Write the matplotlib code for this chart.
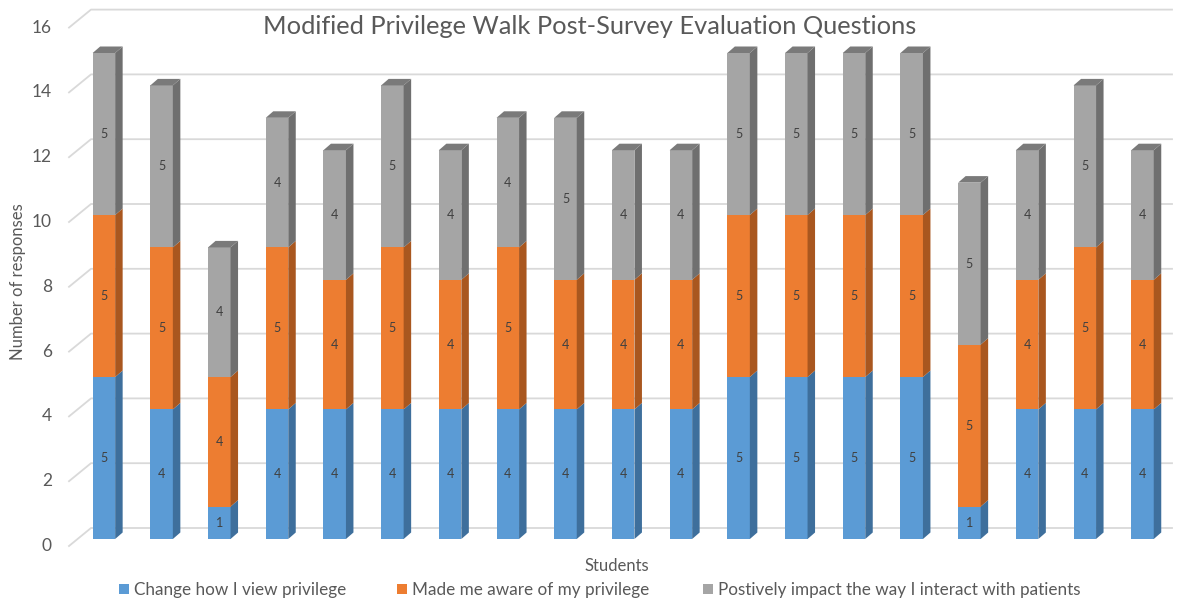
import numpy as np
import matplotlib
matplotlib.use("Agg")
from matplotlib import pyplot as plt
from matplotlib.patches import Polygon, Patch

plt.rcParams['font.family'] = ['Lato', 'DejaVu Sans']

# data
students = np.arange(1, 20)
change_view = [5, 4, 1, 4, 4, 4, 4, 4, 4, 4, 4, 5, 5, 5, 5, 1, 4, 4, 4]
made_aware = [5, 5, 4, 5, 4, 5, 4, 5, 4, 4, 4, 5, 5, 5, 5, 5, 4, 5, 4]
impact_patients = [5, 5, 4, 4, 4, 5, 4, 4, 5, 4, 4, 5, 5, 5, 5, 5, 4, 5, 4]
series_names = ['Change how I view privilege', 'Made me aware of my privilege',
                'Postively impact the way I interact with patients']
y_ticks = [0, 2, 4, 6, 8, 10, 12, 14, 16]

front_cols = ['#5B9BD5', '#ED7D31', '#A5A5A5']
side_cols = ['#3E6F9C', '#A9571F', '#6F6F6F']
top_col = '#7A7A7A'
txt_col = '#595959'

W, H, DPI = 1179, 602, 100
fig = plt.figure(figsize=(W / DPI, H / DPI), dpi=DPI)

# axes geometry in pixels (top-left origin)
px_left, px_right, px_top, px_bot = 60, 1175, 5, 560
x0_px, x_step = 103.9, 57.7   # centre of first bar, bar spacing
y0_px, y_step = 539, 32.4     # value 0, pixels per unit

ax = fig.add_axes([px_left / W, 1 - px_bot / H, (px_right - px_left) / W, (px_bot - px_top) / H])
ax.set_xlim((px_left - x0_px) / x_step, (px_right - x0_px) / x_step)
ax.set_ylim(-(px_bot - y0_px) / y_step, (y0_px - px_top) / y_step)
ax.axis('off')

def px2x(p):
    return (p - x0_px) / x_step

dx = 7.5 / x_step
dy = 6.5 / y_step
width = 22.5 / x_step

# gridlines on the back wall with the perspective stubs
g_dx, g_dy = 22 / x_step, 11 / y_step
lab_dy = 7 / y_step
for v in y_ticks:
    ax.plot([px2x(69), px2x(69) + g_dx, px2x(1172)], [v - lab_dy, v + g_dy, v + g_dy],
            color='#D9D9D9', lw=1.3, zorder=0, clip_on=False)
    ax.text(px2x(52), v - lab_dy, str(v), ha='right', va='center', fontsize=12.5,
            color=txt_col, clip_on=False)

x = students - 1
series = [change_view, made_aware, impact_patients]
bottom = np.zeros(len(x))
for vals, fc, sc in zip(series, front_cols, side_cols):
    vals = np.array(vals, dtype=float)
    ax.bar(x, vals, width=width, bottom=bottom, color=fc, zorder=3)
    for xi, b, v in zip(x, bottom, vals):
        xr = xi + width / 2
        ax.add_patch(Polygon([(xr, b), (xr + dx, b + dy), (xr + dx, b + v + dy), (xr, b + v)],
                             closed=True, facecolor=sc, edgecolor='none', zorder=3))
        ax.text(xi, b + v / 2, '%d' % v, ha='center', va='center', fontsize=9,
                color='#404040', zorder=5)
    bottom = bottom + vals

for xi, t in zip(x, bottom):
    xl, xr = xi - width / 2, xi + width / 2
    ax.add_patch(Polygon([(xl, t), (xr, t), (xr + dx, t + dy), (xl + dx, t + dy)],
                         closed=True, facecolor=top_col, edgecolor='none', zorder=3))

fig.text(590 / W, 1 - 26 / H, 'Modified Privilege Walk Post-Survey Evaluation Questions',
         ha='center', va='center', fontsize=18.3, color=txt_col)
fig.text(18 / W, 1 - 282 / H, 'Number of responses', rotation=90, ha='center', va='center',
         fontsize=12, color=txt_col)
fig.text(617 / W, 1 - 566 / H, 'Students', ha='center', va='center', fontsize=12, color=txt_col)

# legend entries sit at fixed slots like in the original
slots = [119, 397, 703]
for name, c, s in zip(series_names, front_cols, slots):
    fig.legend([Patch(facecolor=c, edgecolor='none')], [name], loc='center left',
               bbox_to_anchor=(s / W, 1 - 590 / H), frameon=False, fontsize=12.3,
               handlelength=0.6, handleheight=0.6, handletextpad=0.3, borderpad=0,
               borderaxespad=0, labelcolor=txt_col)

fig.savefig('out.png', dpi=DPI)
